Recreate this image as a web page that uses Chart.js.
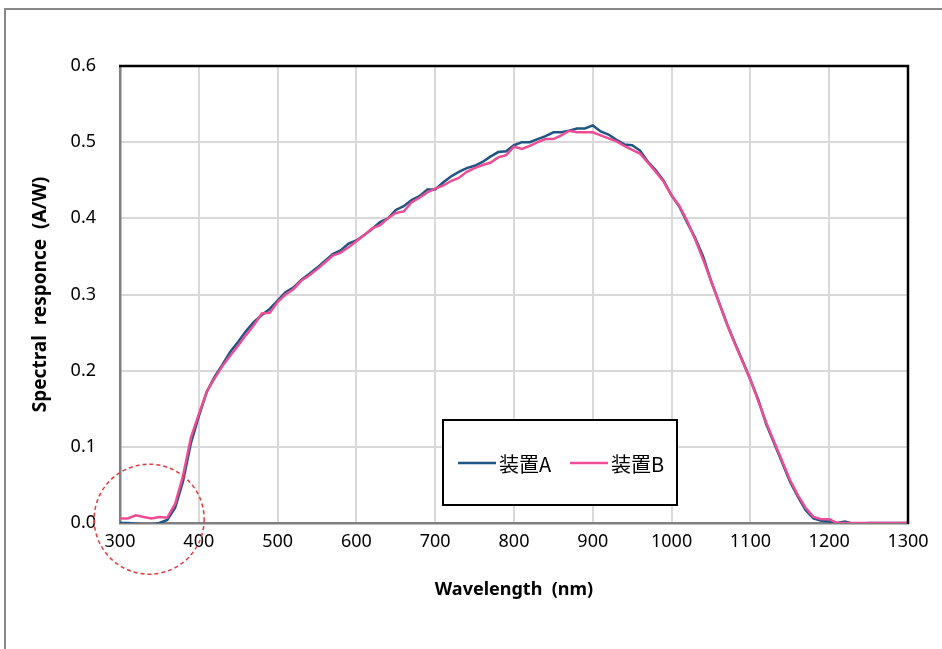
<!DOCTYPE html>
<html>
<head>
<meta charset="utf-8">
<script src="https://cdn.jsdelivr.net/npm/chart.js@4.4.1/dist/chart.umd.min.js"></script>
<style>
    body { margin: 0; background: #fff; }
    #wrap { width: 942px; height: 649px; position: relative; }
</style>
</head>
<body>
<div id="wrap"><canvas id="chart"></canvas></div>
<script>
// wavelength (nm)
const wavelengths = [
    300, 310, 320, 330, 340, 350, 360, 370, 380, 390,
    400, 410, 420, 430, 440, 450, 460, 470, 480, 490,
    500, 510, 520, 530, 540, 550, 560, 570, 580, 590,
    600, 610, 620, 630, 640, 650, 660, 670, 680, 690,
    700, 710, 720, 730, 740, 750, 760, 770, 780, 790,
    800, 810, 820, 830, 840, 850, 860, 870, 880, 890,
    900, 910, 920, 930, 940, 950, 960, 970, 980, 990,
    1000, 1010, 1020, 1030, 1040, 1050, 1060, 1070, 1080, 1090,
    1100, 1110, 1120, 1130, 1140, 1150, 1160, 1170, 1180, 1190,
    1200, 1210, 1220, 1230, 1240, 1250, 1260, 1270, 1280, 1290,
    1300
];

// 装置A spectral response (A/W)
const responseA = [
    0.000, 0.000, -0.001, -0.002, -0.002, 0.000, 0.004, 0.020, 0.055, 0.105,
    0.140, 0.172, 0.192, 0.208, 0.225, 0.238, 0.252, 0.264, 0.273, 0.281,
    0.292, 0.303, 0.309, 0.319, 0.327, 0.335, 0.344, 0.353, 0.358, 0.367,
    0.371, 0.378, 0.386, 0.395, 0.400, 0.411, 0.416, 0.424, 0.429, 0.438,
    0.438, 0.447, 0.455, 0.461, 0.466, 0.469, 0.474, 0.481, 0.487, 0.488,
    0.496, 0.500, 0.500, 0.504, 0.508, 0.513, 0.513, 0.515, 0.518, 0.518,
    0.522, 0.514, 0.510, 0.503, 0.497, 0.496, 0.489, 0.474, 0.463, 0.449,
    0.430, 0.415, 0.394, 0.374, 0.350, 0.318, 0.290, 0.262, 0.237, 0.213,
    0.188, 0.162, 0.130, 0.105, 0.080, 0.055, 0.035, 0.017, 0.006, 0.003,
    0.002, 0.000, 0.002, -0.001, -0.001, 0.000, 0.000, 0.000, 0.000, 0.000,
    0.000
];

// 装置B spectral response (A/W)
const responseB = [
    0.006, 0.006, 0.010, 0.008, 0.006, 0.008, 0.007, 0.025, 0.062, 0.112,
    0.143, 0.172, 0.190, 0.206, 0.220, 0.233, 0.247, 0.260, 0.275, 0.276,
    0.290, 0.300, 0.307, 0.318, 0.325, 0.333, 0.342, 0.351, 0.355, 0.362,
    0.370, 0.378, 0.387, 0.391, 0.400, 0.407, 0.409, 0.421, 0.427, 0.434,
    0.439, 0.443, 0.449, 0.453, 0.461, 0.466, 0.470, 0.473, 0.480, 0.483,
    0.494, 0.491, 0.495, 0.500, 0.504, 0.504, 0.509, 0.515, 0.513, 0.513,
    0.513, 0.509, 0.505, 0.501, 0.495, 0.490, 0.485, 0.473, 0.461, 0.448,
    0.430, 0.416, 0.396, 0.372, 0.346, 0.318, 0.290, 0.262, 0.236, 0.212,
    0.188, 0.160, 0.132, 0.107, 0.082, 0.057, 0.037, 0.020, 0.008, 0.005,
    0.005, 0.000, 0.000, 0.000, 0.000, 0.000, 0.000, 0.000, 0.000, 0.000,
    0.000
];

const seriesNames = ['装置A', '装置B'];
const seriesColors = ['#1f5582', '#ee4d96'];

const toPoints = (ys) => wavelengths.map((x, i) => ({ x: x, y: ys[i] }));

// outer frame, black top/right plot border, dashed circle, legend box
const decorations = {
    id: 'decorations',
    beforeDraw(chart) {
        const ctx = chart.ctx;
        ctx.save();
        ctx.fillStyle = '#fff';
        ctx.fillRect(0, 0, chart.width, chart.height);
        ctx.strokeStyle = '#898989';
        ctx.lineWidth = 2;
        ctx.strokeRect(5, 9, 960, 680);
        ctx.restore();
    },
    afterDraw(chart) {
        const ctx = chart.ctx;
        const a = chart.chartArea;
        const xs = chart.scales.x;
        const ys = chart.scales.y;
        ctx.save();

        // top and right edges of the plot area
        ctx.strokeStyle = '#000';
        ctx.lineWidth = 2.5;
        ctx.beginPath();
        ctx.moveTo(a.left - 1, a.top);
        ctx.lineTo(a.right, a.top);
        ctx.lineTo(a.right, a.bottom + 1);
        ctx.stroke();

        // dashed red circle around the UV region
        ctx.strokeStyle = '#e8383d';
        ctx.lineWidth = 1.5;
        ctx.setLineDash([4, 3]);
        ctx.beginPath();
        ctx.arc(xs.getPixelForValue(337), ys.getPixelForValue(0.005), 55, 0, Math.PI * 2);
        ctx.stroke();
        ctx.setLineDash([]);

        // legend box
        ctx.fillStyle = '#fff';
        ctx.fillRect(443, 420, 234, 85);
        ctx.strokeStyle = '#000';
        ctx.lineWidth = 2;
        ctx.strokeRect(443, 420, 234, 85);

        const rowY = 463;
        const items = [{ x: 458 }, { x: 570 }];
        ctx.font = '20px "Noto Sans CJK JP", "Noto Sans", sans-serif';
        ctx.textBaseline = 'middle';
        ctx.textAlign = 'left';
        items.forEach((it, i) => {
            ctx.strokeStyle = seriesColors[i];
            ctx.lineWidth = 2.5;
            ctx.beginPath();
            ctx.moveTo(it.x, rowY);
            ctx.lineTo(it.x + 38, rowY);
            ctx.stroke();
            ctx.fillStyle = '#000';
            ctx.fillText(seriesNames[i], it.x + 41, rowY + 1);
        });

        ctx.restore();
    }
};

new Chart(document.getElementById('chart'), {
    type: 'line',
    data: {
        datasets: [
            {
                label: seriesNames[0],
                data: toPoints(responseA),
                borderColor: seriesColors[0],
                borderWidth: 2.5,
                pointRadius: 0,
                tension: 0,
                order: 2
            },
            {
                label: seriesNames[1],
                data: toPoints(responseB),
                borderColor: seriesColors[1],
                borderWidth: 2.5,
                pointRadius: 0,
                tension: 0,
                order: 1
            }
        ]
    },
    options: {
        responsive: true,
        maintainAspectRatio: false,
        animation: false,
        layout: { padding: { left: 0, top: 66, right: 34, bottom: 0 } },
        plugins: {
            legend: { display: false },
            tooltip: { enabled: false }
        },
        scales: {
            x: {
                type: 'linear',
                min: 300,
                max: 1300,
                afterFit: (s) => { s.height = 126; },
                ticks: {
                    stepSize: 100,
                    padding: 8,
                    color: '#000',
                    font: { family: '"Noto Sans", sans-serif', size: 18 },
                    callback: (v) => String(v)
                },
                grid: { color: '#d9d9d9', lineWidth: 2, drawTicks: false },
                border: { color: '#808080', width: 2.5 },
                title: {
                    display: true,
                    text: 'Wavelength  (nm)',
                    color: '#000',
                    font: { family: '"Noto Sans", sans-serif', size: 18, weight: 'bold' },
                    padding: { top: 0, bottom: 48 }
                }
            },
            y: {
                min: 0,
                max: 0.6,
                afterFit: (s) => { s.width = 120; },
                ticks: {
                    stepSize: 0.1,
                    padding: 24,
                    color: '#000',
                    font: { family: '"Noto Sans", sans-serif', size: 18 },
                    callback: (v) => v.toFixed(1)
                },
                grid: { color: '#d9d9d9', lineWidth: 2, drawTicks: false },
                border: { color: '#808080', width: 2.5 },
                title: {
                    display: true,
                    text: 'Spectral  responce  (A/W)',
                    color: '#000',
                    font: { family: '"Noto Sans", sans-serif', size: 19, weight: 'bold' },
                    padding: { top: 29, bottom: 0 }
                }
            }
        }
    },
    plugins: [decorations]
});
</script>
</body>
</html>
